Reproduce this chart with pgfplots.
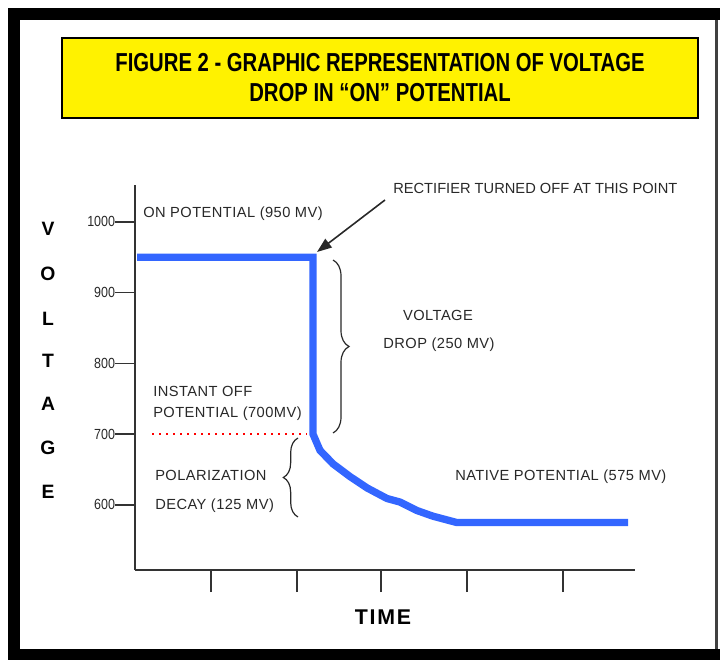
\documentclass[border=0pt]{standalone}
\usepackage{fontspec}
\setmainfont{Liberation Sans}
\usepackage{pgfplots}
\pgfplotsset{compat=1.18}
\usetikzlibrary{arrows.meta,decorations.pathreplacing}
\newfontfamily\titlefont[FakeStretch=0.78]{Liberation Sans}
\newfontfamily\annfont[LetterSpace=3]{Liberation Sans}
\newfontfamily\recfont{Liberation Sans}
\newfontfamily\tickfont[FakeStretch=0.85]{Liberation Sans}
\newfontfamily\timefont[LetterSpace=8]{Liberation Sans}
\definecolor{lineblue}{RGB}{51,102,255}
\definecolor{annot}{RGB}{40,40,40}
\begin{document}
\begin{tikzpicture}
\useasboundingbox (0,0) rectangle (540pt,495pt);
\begin{axis}[
  at={(101.25pt,67.5pt)}, anchor=south west,
  scale only axis, width=375pt, height=288.75pt,
  xmin=0, xmax=10, ymin=508, ymax=1052,
  axis lines*=left,
  axis line style={black!80, line width=1.5pt, -},
  xtick={1.52,3.24,4.92,6.64,8.56}, xticklabels={},
  ytick={600,700,800,900,1000},
  tick align=outside,
  xtick style={black!80, line width=1.2pt, /pgfplots/major tick length=16.5pt},
  ytick style={black!80, line width=1.2pt, /pgfplots/major tick length=15pt},
  yticklabel style={font=\tickfont\fontsize{11}{13}\selectfont, inner sep=0pt, text=annot, anchor=east, xshift=-10.5pt},
  /pgf/number format/assume math mode=true,
  /pgf/number format/1000 sep={},
  clip=false,
]
\addplot[red, line width=1.5pt, dash pattern=on 1.5pt off 3.75pt] coordinates {(0.34,700) (3.44,700)};
\addplot[lineblue, line width=5.5pt, line join=miter] coordinates {
 (0.04,950) (3.56,950) (3.56,700) (3.70,677) (3.96,658) (4.30,640) (4.64,624)
 (5.04,609) (5.30,604) (5.64,592) (5.96,584) (6.44,575) (9.86,575)};
\end{axis}
\begin{scope}[x=0.75pt,y=-0.75pt,shift={(0pt,495pt)},
  ann/.style={font=\annfont\fontsize{11}{13}\selectfont, text=annot, inner sep=0pt},
  yl/.style={font=\bfseries\fontsize{14.5}{16}\selectfont, inner sep=0pt}]
% frame
\fill[black] (8,8) rectangle (720,20);
\fill[black] (8,8) rectangle (20,660);
\fill[black] (8,649) rectangle (720,660);
\fill[black!75] (715,20) rectangle (718,649);
% title
\draw[line width=1.5pt, fill=yellow] (62,38) rectangle (698,118);
\node[anchor=base, inner sep=0pt, font=\titlefont\bfseries\fontsize{19.5}{22}\selectfont] at (380,72) {FIGURE 2 - GRAPHIC REPRESENTATION OF VOLTAGE};
\node[anchor=base, inner sep=0pt, font=\titlefont\bfseries\fontsize{19.5}{22}\selectfont] at (380,102) {DROP IN “ON” POTENTIAL};
% y label
\node[yl] at (48,229) {V};
\node[yl] at (48,274) {O};
\node[yl] at (48,319) {L};
\node[yl] at (48,361) {T};
\node[yl] at (48,404) {A};
\node[yl] at (48,448) {G};
\node[yl] at (48,492) {E};
% x label
\node[anchor=center, inner sep=0pt, font=\timefont\bfseries\fontsize{16}{18}\selectfont] at (383,617) {TIME};
% annotations
\node[ann, anchor=base west] at (143,218) {ON POTENTIAL (950 MV)};
\node[ann, anchor=base west, font=\recfont\fontsize{11}{13}\selectfont] at (393,194) {RECTIFIER TURNED OFF AT THIS POINT};
\node[ann, anchor=base] at (438,321) {VOLTAGE};
\node[ann, anchor=base] at (439,349) {DROP (250 MV)};
\node[ann, anchor=base west] at (153,397) {INSTANT OFF};
\node[ann, anchor=base west] at (153,418) {POTENTIAL (700MV)};
\node[ann, anchor=base west] at (155,481) {POLARIZATION};
\node[ann, anchor=base west] at (155,510) {DECAY (125 MV)};
\node[ann, anchor=base west] at (455,481) {NATIVE POTENTIAL (575 MV)};
% arrow
\draw[annot, line width=1.2pt, -{Triangle[length=11pt,width=8pt]}] (385,200) -- (317,252);
% braces
\draw[annot, line width=0.9pt, decorate, decoration={brace, amplitude=12pt}] (333,260) -- (333,433);
\draw[annot, line width=0.9pt, decorate, decoration={brace, amplitude=11pt}] (298,517) -- (298,438);
\end{scope}
\end{tikzpicture}
\end{document}
